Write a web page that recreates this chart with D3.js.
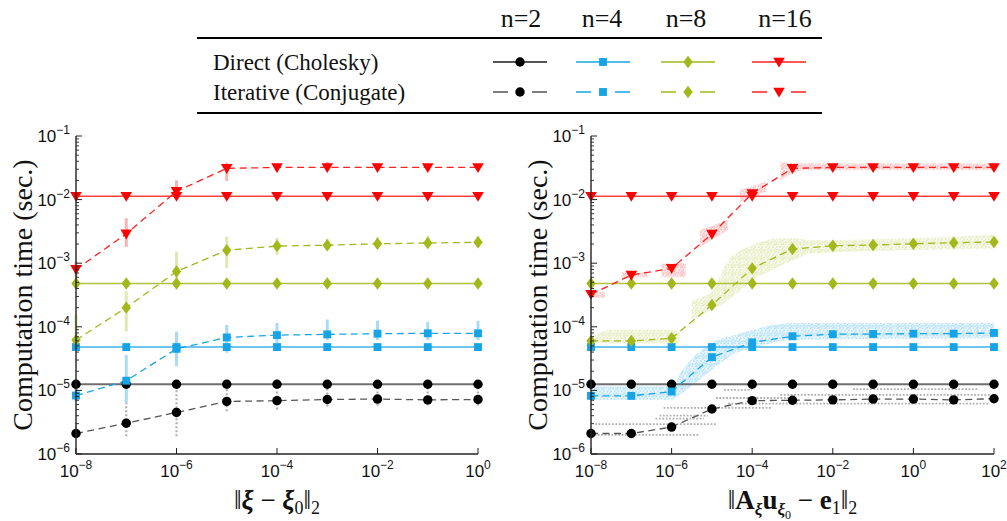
<!DOCTYPE html>
<html><head><meta charset="utf-8">
<script src="https://cdn.jsdelivr.net/npm/d3@7"></script>
<style>
body{margin:0;background:#fff;}
svg{display:block;}
</style></head><body>
<svg id="chart" width="1007" height="521"></svg>
<script>
// ---------------- data ----------------
const sizes = ["n=2", "n=4", "n=8", "n=16"];
const rowLabels = ["Direct (Cholesky)", "Iterative (Conjugate)"];
const colors = ["#000000", "#17a4e6", "#a2b81b", "#ff0000"];
const lineColors = ["#555555", "#17a4e6", "#a2b81b", "#ff2020"];
const lightColors = ["#b0b0b0", "#a8dcf6", "#e1e9b3", "#f8b3b3"];

// tolerance on ||xi - xi0||
const tolLeft = [1e-8, 1e-7, 1e-6, 1e-5, 1e-4, 1e-3, 1e-2, 1e-1, 1e0];
// tolerance on ||A u - e1||
const tolRight = [1e-8, 1e-7, 1e-6, 1e-5, 1e-4, 1e-3, 1e-2, 1e-1, 1e0, 1e1, 1e2];

const yTickExp = [-6, -5, -4, -3, -2, -1];
const xTickExpLeft = [-8, -6, -4, -2, 0];
const xTickExpRight = [-8, -6, -4, -2, 0, 2];

// direct solver timings (sec.), one row per n
const directLeft = [
  [1.25e-5, 1.25e-5, 1.25e-5, 1.25e-5, 1.25e-5, 1.25e-5, 1.25e-5, 1.25e-5, 1.25e-5],
  [4.8e-5, 4.8e-5, 4.8e-5, 4.8e-5, 4.8e-5, 4.8e-5, 4.8e-5, 4.8e-5, 4.8e-5],
  [4.8e-4, 4.8e-4, 4.8e-4, 4.8e-4, 4.8e-4, 4.8e-4, 4.8e-4, 4.8e-4, 4.8e-4],
  [1.13e-2, 1.13e-2, 1.13e-2, 1.13e-2, 1.13e-2, 1.13e-2, 1.13e-2, 1.13e-2, 1.13e-2]
];
const directRight = [
  [1.25e-5, 1.25e-5, 1.25e-5, 1.25e-5, 1.25e-5, 1.25e-5, 1.25e-5, 1.25e-5, 1.25e-5, 1.25e-5, 1.25e-5],
  [4.8e-5, 4.8e-5, 4.8e-5, 4.8e-5, 4.8e-5, 4.8e-5, 4.8e-5, 4.8e-5, 4.8e-5, 4.8e-5, 4.8e-5],
  [4.8e-4, 4.8e-4, 4.8e-4, 4.8e-4, 4.8e-4, 4.8e-4, 4.8e-4, 4.8e-4, 4.8e-4, 4.8e-4, 4.8e-4],
  [1.13e-2, 1.13e-2, 1.13e-2, 1.13e-2, 1.13e-2, 1.13e-2, 1.13e-2, 1.13e-2, 1.13e-2, 1.13e-2, 1.13e-2]
];

// iterative solver mean timings (sec.)
const iterLeft = [
  [2.1e-6, 3.05e-6, 4.5e-6, 6.7e-6, 6.9e-6, 7.2e-6, 7.3e-6, 7.1e-6, 7.2e-6],
  [8.3e-6, 1.42e-5, 4.5e-5, 6.8e-5, 7.4e-5, 7.6e-5, 7.8e-5, 7.9e-5, 7.9e-5],
  [6.2e-5, 2.0e-4, 7.4e-4, 1.6e-3, 1.86e-3, 1.92e-3, 2.02e-3, 2.08e-3, 2.13e-3],
  [8.0e-4, 2.9e-3, 1.35e-2, 3.1e-2, 3.2e-2, 3.2e-2, 3.2e-2, 3.2e-2, 3.2e-2]
];
// spread of individual iterative runs (min / max)
const iterLeftLo = [
  [1.9e-6, 1.9e-6, 1.9e-6, 4.7e-6, 5.0e-6, 5.6e-6, 5.8e-6, 5.8e-6, 5.8e-6],
  [6.7e-6, 6.4e-6, 2.4e-5, 3.9e-5, 5.6e-5, 6.2e-5, 6.2e-5, 6.2e-5, 6.2e-5],
  [5.9e-5, 8.4e-5, 4.1e-4, 8.4e-4, 1.35e-3, 1.6e-3, 1.7e-3, 1.75e-3, 1.8e-3],
  [6.1e-4, 1.8e-3, 1.06e-2, 1.97e-2, 2.73e-2, 2.9e-2, 2.9e-2, 2.9e-2, 2.9e-2]
];
const iterLeftHi = [
  [3.1e-6, 1.3e-5, 1.15e-5, 1.15e-5, 1.0e-5, 1.1e-5, 1.05e-5, 1.05e-5, 1.1e-5],
  [1.22e-5, 3.6e-5, 8.4e-5, 1.07e-4, 1.15e-4, 1.3e-4, 1.25e-4, 1.2e-4, 1.25e-4],
  [1.54e-4, 3.6e-4, 1.52e-3, 2.6e-3, 2.5e-3, 2.45e-3, 2.6e-3, 2.7e-3, 2.7e-3],
  [1.06e-3, 5.1e-3, 2.0e-2, 3.8e-2, 3.7e-2, 3.9e-2, 3.7e-2, 3.6e-2, 3.6e-2]
];

const iterRight = [
  [2.1e-6, 2.1e-6, 2.65e-6, 5.1e-6, 6.9e-6, 7.0e-6, 7.1e-6, 7.3e-6, 7.3e-6, 7.1e-6, 7.4e-6],
  [8.2e-6, 8.2e-6, 9.6e-6, 3.33e-5, 5.7e-5, 7.1e-5, 7.65e-5, 7.7e-5, 7.8e-5, 7.8e-5, 8.0e-5],
  [6.0e-5, 6.0e-5, 6.6e-5, 2.2e-4, 8.3e-4, 1.67e-3, 1.88e-3, 1.93e-3, 2.02e-3, 2.1e-3, 2.15e-3],
  [3.25e-4, 6.5e-4, 8.3e-4, 2.87e-3, 1.25e-2, 3.1e-2, 3.2e-2, 3.2e-2, 3.2e-2, 3.2e-2, 3.2e-2]
];

// clouds of individual runs vs. achieved residual: [log10 residual, min, max]
const cloudN4 = [
  [[-8.0, 7.1e-6, 1.15e-5], [-6.0, 7.1e-6, 1.15e-5], [-5.75, 9e-6, 2.0e-5], [-5.0, 2.1e-5, 5.6e-5],
   [-4.4, 3.9e-5, 7.5e-5], [-4.0, 4.6e-5, 8.9e-5], [-3.0, 6.2e-5, 1.15e-4], [2.0, 6.6e-5, 1.15e-4]]
];
const cloudN8 = [
  [[-8.0, 5.5e-5, 6.6e-5], [-7.5, 5.5e-5, 9e-5], [-6.0, 5.5e-5, 9e-5], [-5.8, 6e-5, 8e-5]],
  [[-5.5, 1.3e-4, 2.6e-4], [-5.0, 1.85e-4, 3.6e-4], [-4.6, 2.6e-4, 1.1e-3], [-4.0, 5.5e-4, 1.9e-3],
   [-3.5, 7.8e-4, 2.4e-3], [-3.0, 1.1e-3, 2.5e-3], [-2.5, 1.43e-3, 2.3e-3], [2.0, 1.7e-3, 2.77e-3]]
];
const cloudN16 = [
  [[-8.0, 2.9e-4, 3.7e-4], [-7.65, 2.9e-4, 3.5e-4]],
  [[-7.25, 6.0e-4, 7.1e-4], [-6.6, 6.0e-4, 7.1e-4]],
  [[-6.25, 6.0e-4, 1.0e-3], [-5.65, 6.0e-4, 1.0e-3]],
  [[-5.3, 1.8e-3, 3.3e-3], [-4.6, 3.3e-3, 4.8e-3]],
  [[-4.3, 9.2e-3, 1.41e-2], [-3.65, 1.33e-2, 1.9e-2]],
  [[-3.3, 2.0e-2, 3.9e-2], [-2.7, 2.9e-2, 3.7e-2], [2.0, 2.9e-2, 3.7e-2]]
];
// n=2 timings are quantised: rows of runs [time, from log10 residual, to log10 residual]
const rowsN2 = [
  [2.0e-6, -8.0, -5.3], [2.95e-6, -7.9, -4.9], [3.6e-6, -6.4, -5.2], [4.0e-6, -6.3, -5.1],
  [5.3e-6, -6.2, -3.5], [6.2e-6, -4.6, 1.9], [7.6e-6, -4.9, -3.0], [8.5e-6, -3.3, 1.9],
  [1.02e-5, -4.7, -4.0], [1.05e-5, -1.5, 1.6]
];

// ---------------- drawing ----------------
const svg = d3.select("#chart");
const defs = svg.append("defs");
// irregular stipple tile used to fill the sample clouds
const stippleDots = [[0.3, 0.4], [3.4, 0.9], [5.6, 2.8], [1.8, 3.1], [4.2, 4.6], [0.6, 5.6], [2.9, 6.3], [6.0, 6.1], [4.8, 0.0]];
lightColors.forEach((c, i) => {
  const p = defs.append("pattern").attr("id", "stip" + i)
    .attr("width", 7.2).attr("height", 7.6).attr("patternUnits", "userSpaceOnUse");
  stippleDots.forEach(d => p.append("rect").attr("x", d[0]).attr("y", d[1])
    .attr("width", 1.6).attr("height", 1.6).attr("fill", c));
});

const yTop = 136, yBot = 454;
const y = d3.scaleLog().domain([1e-6, 1e-1]).range([yBot, yTop]);

const panels = [
  {x0: 76, x1: 478, dom: [1e-8, 1e0], xt: xTickExpLeft, tol: tolLeft, direct: directLeft, iter: iterLeft, right: false},
  {x0: 591, x1: 994, dom: [1e-8, 1e2], xt: xTickExpRight, tol: tolRight, direct: directRight, iter: iterRight, right: true}
];

const minus = e => (e < 0 ? "\u2212" + (-e) : "" + e);
const symCircle = d3.symbol(d3.symbolCircle, 70)();
const symSquare = d3.symbol(d3.symbolSquare, 62)();
const symDiamond = "M0,-6.2L4.7,0L0,6.2L-4.7,0Z";
const symTriDown = "M-5.8,-4.3L5.8,-4.3L0,5.6Z";
const markers = [symCircle, symSquare, symDiamond, symTriDown];

function drawMarker(g, i, cx, cy) {
  g.append("path").attr("d", markers[i])
    .attr("transform", `translate(${cx},${cy})`)
    .attr("fill", colors[i]);
}

panels.forEach(P => {
  const x = d3.scaleLog().domain(P.dom).range([P.x0, P.x1]);
  const g = svg.append("g");

  // sample spread
  if (!P.right) {
    for (let i = 0; i < 4; i++) {
      P.tol.forEach((t, k) => {
        g.append("line")
          .attr("x1", x(t)).attr("x2", x(t))
          .attr("y1", y(iterLeftLo[i][k])).attr("y2", y(iterLeftHi[i][k]))
          .attr("stroke", lightColors[i])
          .attr("stroke-width", i === 0 ? 2.2 : 3)
          .attr("stroke-dasharray", i === 0 ? "2 2" : null);
      });
    }
  } else {
    const area = d3.area().x(d => x(Math.pow(10, d[0]))).y0(d => y(d[1])).y1(d => y(d[2]))
      .curve(d3.curveMonotoneX);
    [[1, cloudN4], [2, cloudN8], [3, cloudN16]].forEach(([i, segs]) => {
      segs.forEach(seg => {
        g.append("path").attr("d", area(seg)).attr("fill", lightColors[i]).attr("fill-opacity", 0.18);
        g.append("path").attr("d", area(seg)).attr("fill", "url(#stip" + i + ")");
      });
    });
    rowsN2.forEach(r => {
      g.append("line")
        .attr("x1", x(Math.pow(10, r[1]))).attr("x2", x(Math.pow(10, r[2])))
        .attr("y1", y(r[0])).attr("y2", y(r[0]))
        .attr("stroke", lightColors[0]).attr("stroke-width", 1.8)
        .attr("stroke-dasharray", "1.8 1.6");
    });
  }

  // series lines
  const line = d3.line().x(d => x(d[0])).y(d => y(d[1]));
  for (let i = 0; i < 4; i++) {
    const dPts = P.tol.map((t, k) => [t, P.direct[i][k]]);
    const iPts = P.tol.map((t, k) => [t, P.iter[i][k]]);
    g.append("path").attr("d", line(dPts)).attr("fill", "none")
      .attr("stroke", lineColors[i]).attr("stroke-width", i === 0 ? 2.2 : 1.6).attr("stroke-opacity", 0.85);
    g.append("path").attr("d", line(iPts)).attr("fill", "none")
      .attr("stroke", lineColors[i]).attr("stroke-width", 1.3)
      .attr("stroke-dasharray", "7 4.5");
  }
  for (let i = 0; i < 4; i++) {
    P.tol.forEach((t, k) => {
      drawMarker(g, i, x(t), y(P.direct[i][k]));
      drawMarker(g, i, x(t), y(P.iter[i][k]));
    });
  }

  // axes
  const ax = svg.append("g").attr("stroke", "#222").attr("fill", "none");
  ax.append("line").attr("x1", P.x0).attr("x2", P.x0).attr("y1", yTop).attr("y2", yBot).attr("stroke-width", 1.4);
  ax.append("line").attr("x1", P.x0).attr("x2", P.x1).attr("y1", yBot).attr("y2", yBot).attr("stroke-width", 1.4);
  // y ticks (major + minor)
  yTickExp.forEach(e => {
    const v = Math.pow(10, e);
    ax.append("line").attr("x1", P.x0).attr("x2", P.x0 + 6).attr("y1", y(v)).attr("y2", y(v)).attr("stroke-width", 1);
    if (e < -1) {
      for (let m = 2; m <= 9; m++) {
        const yy = y(m * v);
        ax.append("line").attr("x1", P.x0).attr("x2", P.x0 + 3).attr("y1", yy).attr("y2", yy).attr("stroke-width", 0.9);
      }
    }
  });
  P.xt.forEach(e => {
    const xx = x(Math.pow(10, e));
    ax.append("line").attr("x1", xx).attr("x2", xx).attr("y1", yBot).attr("y2", yBot - 6).attr("stroke-width", 1);
  });

  // tick labels
  const tl = svg.append("g").attr("font-family", "'Liberation Sans', Arial, sans-serif").attr("fill", "#111");
  yTickExp.forEach(e => {
    const t = tl.append("text").attr("x", P.x0 - 6).attr("y", y(Math.pow(10, e)) + 6)
      .attr("text-anchor", "end").attr("font-size", 17);
    t.append("tspan").text("10");
    t.append("tspan").attr("dy", -8).attr("font-size", 12).text(minus(e));
  });
  P.xt.forEach(e => {
    const t = tl.append("text").attr("x", x(Math.pow(10, e))).attr("y", 477)
      .attr("text-anchor", "middle").attr("font-size", 17);
    t.append("tspan").text("10");
    t.append("tspan").attr("dy", -8).attr("font-size", 12).text(minus(e));
  });

  // y title
  svg.append("text")
    .attr("transform", `translate(${P.x0 - 44},${(yTop + yBot) / 2}) rotate(-90)`)
    .attr("text-anchor", "middle")
    .attr("font-family", "'Liberation Serif', 'Times New Roman', serif")
    .attr("font-size", 28).attr("fill", "#111")
    .text("Computation time (sec.)");

  // x title
  const xt = svg.append("text")
    .attr("x", (P.x0 + P.x1) / 2).attr("y", 509)
    .attr("text-anchor", "middle")
    .attr("font-family", "'Liberation Serif', 'Times New Roman', serif")
    .attr("font-size", 27).attr("fill", "#111");
  if (!P.right) {
    xt.append("tspan").text("\u2016");
    xt.append("tspan").attr("font-weight", "bold").attr("font-style", "italic").text("\u03BE");
    xt.append("tspan").text(" \u2212 ");
    xt.append("tspan").attr("font-weight", "bold").attr("font-style", "italic").text("\u03BE");
    xt.append("tspan").attr("font-size", 18).attr("dy", 5).text("0");
    xt.append("tspan").attr("dy", -5).text("\u2016");
    xt.append("tspan").attr("font-size", 18).attr("dy", 5).text("2");
  } else {
    xt.append("tspan").text("\u2016");
    xt.append("tspan").attr("font-weight", "bold").text("A");
    xt.append("tspan").attr("font-size", 17).attr("dy", 6).attr("font-weight", "bold").attr("font-style", "italic").text("\u03BE");
    xt.append("tspan").attr("dy", -6).attr("font-weight", "bold").text("u");
    xt.append("tspan").attr("font-size", 17).attr("dy", 6).attr("font-weight", "bold").attr("font-style", "italic").text("\u03BE");
    xt.append("tspan").attr("font-size", 12).attr("dy", 4).text("0");
    xt.append("tspan").attr("dy", -10).text(" \u2212 ");
    xt.append("tspan").attr("font-weight", "bold").text("e");
    xt.append("tspan").attr("font-size", 18).attr("dy", 5).text("1");
    xt.append("tspan").attr("dy", -5).text("\u2016");
    xt.append("tspan").attr("font-size", 18).attr("dy", 5).text("2");
  }
});

// ---------------- legend table ----------------
const L = svg.append("g").attr("font-family", "'Liberation Serif', 'Times New Roman', serif").attr("fill", "#111");
const colX = [520, 603, 688, 779];
const headX = [521, 602, 686, 785];
const rowY = [62, 92];
L.append("line").attr("x1", 197).attr("x2", 822).attr("y1", 38).attr("y2", 38).attr("stroke", "#000").attr("stroke-width", 2);
L.append("line").attr("x1", 197).attr("x2", 822).attr("y1", 113).attr("y2", 113).attr("stroke", "#000").attr("stroke-width", 2);
sizes.forEach((s, i) => {
  L.append("text").attr("x", headX[i]).attr("y", 27).attr("text-anchor", "middle").attr("font-size", 26).text(s);
});
rowLabels.forEach((r, j) => {
  L.append("text").attr("x", 213).attr("y", rowY[j] + 8).attr("font-size", 23).text(r);
  sizes.forEach((s, i) => {
    L.append("line").attr("x1", colX[i] - 27).attr("x2", colX[i] + 27)
      .attr("y1", rowY[j]).attr("y2", rowY[j])
      .attr("stroke", lineColors[i]).attr("stroke-width", j === 0 && i === 0 ? 2 : 1.5)
      .attr("stroke-dasharray", j === 1 ? "15 24 15" : null);
    drawMarker(L, i, colX[i], rowY[j]);
  });
});
</script>
</body></html>
